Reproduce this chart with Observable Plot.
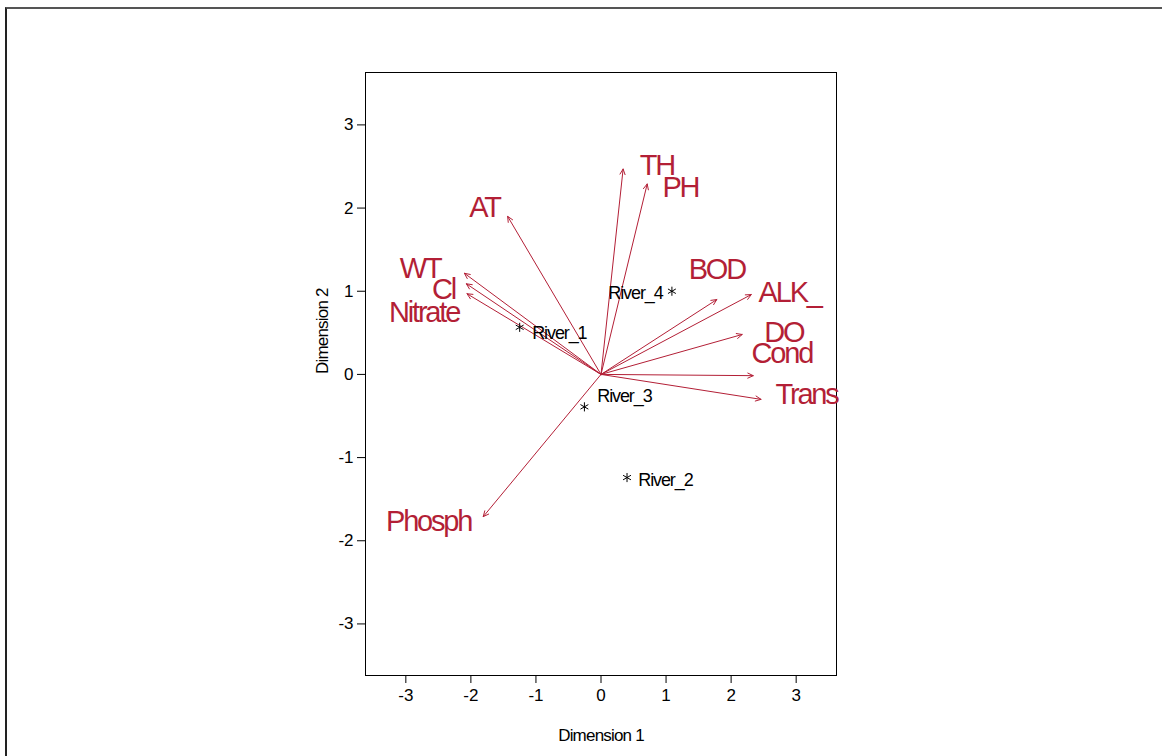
<!DOCTYPE html>
<html><head><meta charset="utf-8">
<script src="https://cdn.jsdelivr.net/npm/d3@7"></script>
<script src="https://cdn.jsdelivr.net/npm/@observablehq/plot@0.6"></script>
<style>
body{margin:0;background:#fff;}
#wrap{position:relative;width:1162px;height:756px;overflow:hidden;}
#border{position:absolute;left:5px;top:7px;right:-5px;bottom:-5px;border-top:2px solid #555;border-left:2px solid #222;pointer-events:none;}
</style>
</head><body>
<div id="wrap"><div id="border"></div></div>
<script>
// Variable loadings (arrow tips)
const variables = ["TH","PH","AT","WT","Cl","Nitrate","BOD","ALK_","DO","Cond","Trans","Phosph"];
const dim1 = [0.34, 0.71, -1.435, -2.10, -2.07, -2.06, 1.78, 2.31, 2.17, 2.34, 2.46, -1.81];
const dim2 = [2.47, 2.29, 1.90, 1.216, 1.09, 0.97, 0.90, 0.96, 0.48, -0.015, -0.30, -1.71];
// Where the variable names sit
const labelDim1 = [0.86, 1.22, -1.79, -2.78, -2.42, -2.72, 1.78, 2.90, 2.81, 2.78, 3.16, -2.65];
const labelDim2 = [2.51, 2.25, 2.00, 1.27, 1.02, 0.74, 1.26, 0.98, 0.50, 0.25, -0.25, -1.77];
// River scores
const rivers = ["River_1","River_2","River_3","River_4"];
const riverDim1 = [-1.25, 0.40, -0.255, 1.09];
const riverDim2 = [0.566, -1.24, -0.39, 1.00];
const riverLabelDim1 = [-0.64, 0.99, 0.36, 0.53];
const riverLabelDim2 = [0.49, -1.27, -0.26, 0.98];
const ticks = [-3, -2, -1, 0, 1, 2, 3];
const axisTitles = ["Dimension 1", "Dimension 2"];

const red = "#b31f36";
const vars = variables.map((v, i) => ({name: v, x: dim1[i], y: dim2[i], lx: labelDim1[i], ly: labelDim2[i]}));
const rv = rivers.map((r, i) => ({name: r, x: riverDim1[i], y: riverDim2[i], lx: riverLabelDim1[i], ly: riverLabelDim2[i]}));

const chart = Plot.plot({
  width: 1162,
  height: 756,
  marginLeft: 365,
  marginRight: 326,
  marginTop: 72,
  marginBottom: 81,
  style: {fontFamily: "'Liberation Sans', Arial, sans-serif", fontSize: "17px", background: "transparent", color: "#000"},
  x: {domain: [-3.62, 3.62], label: null},
  y: {domain: [-3.62, 3.63], label: null},
  marks: [
    Plot.axisX({ticks, tickSize: 8, tickPadding: 5, fontSize: 17, tickFormat: d => String(d), label: null}),
    Plot.axisY({ticks, tickSize: 8, tickPadding: 4, fontSize: 17, tickFormat: d => String(d), label: null}),
    Plot.frame({stroke: "#000", strokeWidth: 1}),
    Plot.arrow(vars, {x1: () => 0, y1: () => 0, x2: "x", y2: "y", stroke: red, strokeWidth: 1, headLength: 9, headAngle: 50}),
    Plot.text(vars, {x: "lx", y: "ly", text: "name", fill: red, fontSize: 29}),
    Plot.dot(rv, {x: "x", y: "y", symbol: "asterisk", r: 4.3, stroke: "#000", strokeWidth: 1}),
    Plot.text(rv, {x: "lx", y: "ly", text: "name", fill: "#000", fontSize: 18}),
    Plot.text([axisTitles[0]], {frameAnchor: "bottom", dy: 65, text: d => d, fontSize: 17}),
    Plot.text([axisTitles[1]], {frameAnchor: "left", dx: -43, rotate: -90, text: d => d, fontSize: 17})
  ]
});
document.getElementById("wrap").prepend(chart);

// tighten the letter spacing as in the reference rendering
d3.select(chart).selectAll("text").each(function() {
  const t = this.textContent;
  let ls = null;
  if (variables.includes(t)) ls = -2.2;
  else if (rivers.includes(t)) ls = -1.1;
  else if (axisTitles.includes(t)) ls = -0.8;
  if (ls !== null) {
    this.setAttribute("letter-spacing", ls);
    this.style.letterSpacing = ls + "px";
  }
});
</script>
</body></html>
